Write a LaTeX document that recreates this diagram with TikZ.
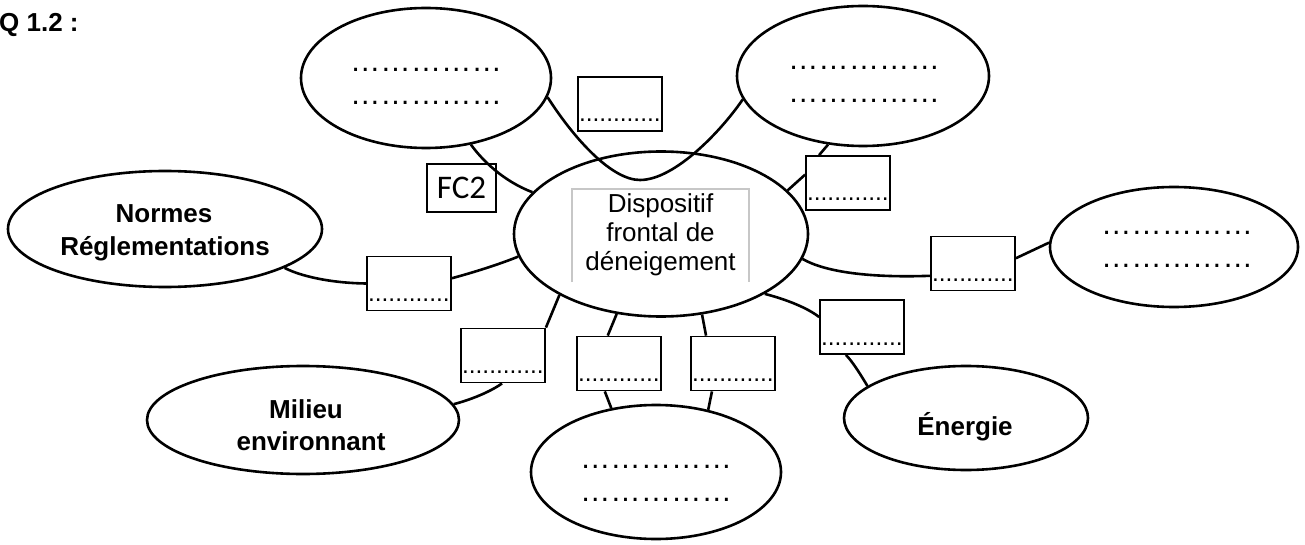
\documentclass[tikz,border=0pt]{standalone}
\usepackage{fontspec}
\setmainfont{Liberation Sans}
\newfontfamily\calib{Carlito}
\usetikzlibrary{shapes.geometric}
\begin{document}
\begin{tikzpicture}[x=1pt,y=-1pt,
  ell/.style={ellipse,draw,line width=2.6pt,inner sep=0pt},
  lbox/.style={rectangle,draw,line width=1.8pt,minimum width=84pt,minimum height=54pt,inner xsep=1pt,inner ysep=3pt,text width=82pt,align=left,text height=42pt,text depth=6pt,font=\fontsize{24.5}{28}\selectfont},
  conn/.style={line width=2.6pt},
  btxt/.style={anchor=base,inner sep=0pt,font=\bfseries\fontsize{26}{30}\selectfont},
  rtxt/.style={anchor=base,inner sep=0pt,font=\fontsize{26}{30}\selectfont},
  dtxt/.style={anchor=base,inner sep=0pt,font=\fontsize{30.4}{33}\selectfont},
]
\path[use as bounding box,fill=white] (0,0) rectangle (1305,545);

% ellipses
\node[ell,minimum width=250pt,minimum height=140pt] (TL) at (426,78) {};
\node[ell,minimum width=252pt,minimum height=140pt] (TR) at (863,76) {};
\node[ell,minimum width=314pt,minimum height=116pt] (N) at (165,229) {};
\node[ell,minimum width=294pt,minimum height=165pt] (C) at (661,234) {};
\node[ell,minimum width=248pt,minimum height=120pt] (R) at (1174,247) {};
\node[ell,minimum width=312pt,minimum height=108pt] (M) at (303,420) {};
\node[ell,minimum width=244pt,minimum height=104pt] (E) at (966,418) {};
\node[ell,minimum width=250pt,minimum height=134pt] (B) at (656,472) {};

% texts
\node[btxt,anchor=base west] (title) at (-1,32) {Q 1.2 :};
\node[dtxt] (tl1) at (426,72) {……………};
\node[dtxt] (tl2) at (426,105) {……………};
\node[dtxt] (tr1) at (864,70) {……………};
\node[dtxt] (tr2) at (864,103) {……………};
\node[dtxt] (r1) at (1177,235) {……………};
\node[dtxt] (r2) at (1177,267) {……………};
\node[dtxt] (b1) at (656,468) {……………};
\node[dtxt] (b2) at (656,501) {……………};
\node[btxt] (n1) at (164,223) {Normes};
\node[btxt] (n2) at (165,255) {Réglementations};
\node[btxt] (m1) at (306,418) {Milieu};
\node[btxt] (m2) at (311,450) {environnant};
\node[btxt] (e1) at (965,435) {Énergie};
\node[rtxt] (c1) at (660.5,213) {Dispositif};
\node[rtxt] (c2) at (660.5,242) {frontal de};
\node[rtxt] (c3) at (660.5,270) {déneigement};
\draw[black!22,line width=1.2pt] (572,282) -- (572,189) -- (749,189) -- (749,282);

% label boxes
\node[lbox] (bt) at (620,104) {............};
\node[lbox] (btr) at (848,183) {............};
\node[lbox] (br) at (973,263.5) {............};
\node[lbox] (be) at (862,327) {............};
\node[lbox] (bn) at (409,283.5) {............};
\node[lbox] (bm) at (503,355.5) {............};
\node[lbox] (bb1) at (619,363.5) {............};
\node[lbox] (bb2) at (733,363.5) {............};
\node[draw,line width=1.5pt,minimum width=69pt,minimum height=48pt,inner sep=0pt,font=\calib\fontsize{33}{34}\selectfont] (fc2) at (461.5,188) {FC2};

% connectors
\draw[conn] (TL.-56) .. controls (482,160) and (503,181) .. (C.162);
\coordinate (u) at (640,180);
\draw[conn] (TL.-9.5) .. controls (575,140) and (612,180) .. (u) .. controls (675,180) and (722,130) .. (TR.191.7);
\draw[conn] (TR.-117.6) -- (btr.136);
\draw[conn] (btr.169) -- (C.19.5);
\draw[conn] (C.-10.4) .. controls (825,272) and (870,278) .. (br.196.6);
\draw[conn] (br.7.5) -- (R.178);
\draw[conn] (C.-30) .. controls (785,299) and (808,308) .. (be.167.9);
\draw[conn] (be.-120) .. controls (853,362) and (862,377) .. (E.162.4);
\draw[conn] (C.-119) -- (bb1.112.5);
\draw[conn] (bb1.-117.8) -- (B.125.7);
\draw[conn] (C.-63.7) -- (bb2.134.5);
\draw[conn] (bb2.-127) -- (B.50);
\draw[conn] (C.-149.6) -- (bm.north east);
\draw[conn] (bm.-92) .. controls (490,392) and (470,400) .. (M.6);
\draw[conn] (N.-18.4) .. controls (300,276) and (330,283) .. (bn.west);
\draw[conn] (bn.7.5) .. controls (475,272) and (500,264) .. (C.189.5);
\end{tikzpicture}
\end{document}
